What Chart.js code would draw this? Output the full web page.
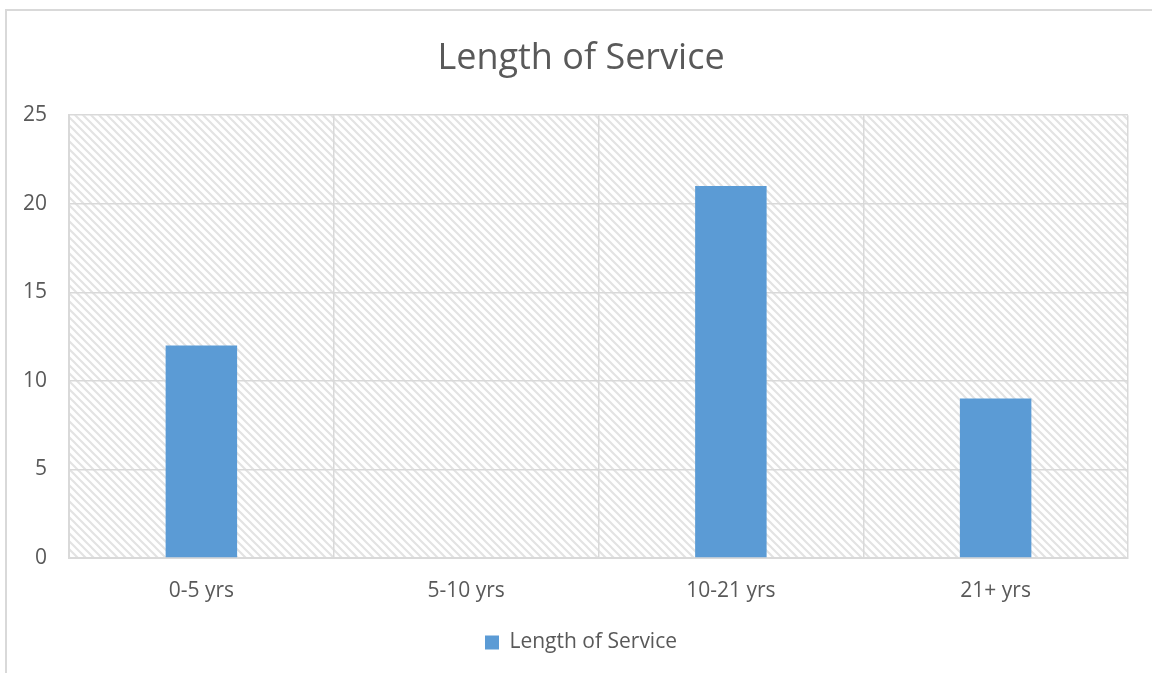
<!DOCTYPE html>
<html>
<head>
<meta charset="utf-8">
<script src="https://cdn.jsdelivr.net/npm/chart.js@4"></script>
<style>
  html, body { margin: 0; padding: 0; background: #fff; }
  #frame { position: absolute; left: 5px; top: 9px; width: 1160px; height: 680px; border: 2px solid #d9d9d9; box-sizing: border-box; }
  #wrap { position: absolute; left: 0; top: 0; width: 1152px; height: 673px; }
</style>
</head>
<body>
<div id="frame"></div>
<div id="wrap"><canvas id="chart"></canvas></div>
<script>
const categories = ['0-5 yrs', '5-10 yrs', '10-21 yrs', '21+ yrs'];
const serviceCounts = [12, 0, 21, 9];
const yTicks = [0, 5, 10, 15, 20, 25];

// diagonal hatch used for the plot area background
function makeHatch() {
    const c = document.createElement('canvas');
    c.width = 8; c.height = 8;
    const g = c.getContext('2d');
    g.strokeStyle = '#e3e3e3';
    g.lineWidth = 2.2;
    g.beginPath();
    g.moveTo(-2, -2); g.lineTo(10, 10);
    g.moveTo(-2, 6); g.lineTo(2, 10);
    g.moveTo(6, -2); g.lineTo(10, 2);
    g.stroke();
    return g.createPattern(c, 'repeat');
}

const hatchPlugin = {
    id: 'hatch',
    beforeDraw(chart) {
        const { ctx, chartArea: a } = chart;
        ctx.save();
        ctx.fillStyle = makeHatch();
        ctx.fillRect(a.left, a.top, a.right - a.left, a.bottom - a.top);
        ctx.restore();
    }
};

const font = "'Open Sans', 'Liberation Sans', sans-serif";

new Chart(document.getElementById('chart'), {
    type: 'bar',
    data: {
        labels: categories,
        datasets: [{
            label: 'Length of Service',
            data: serviceCounts,
            backgroundColor: '#5b9bd5',
            barPercentage: 0.54,
            categoryPercentage: 0.5
        }]
    },
    options: {
        responsive: true,
        maintainAspectRatio: false,
        animation: false,
        layout: { padding: { left: 10, right: 0, top: 37, bottom: 10 } },
        plugins: {
            title: {
                display: true,
                text: 'Length of Service',
                color: '#595959',
                font: { family: font, size: 36, weight: 'normal' },
                padding: { top: 0, bottom: 35 }
            },
            legend: {
                position: 'bottom',
                labels: {
                    color: '#595959',
                    font: { family: font, size: 21 },
                    boxWidth: 14,
                    boxHeight: 14,
                    padding: 10
                }
            },
            tooltip: { enabled: false }
        },
        scales: {
            x: {
                grid: { color: '#d9d9d9', lineWidth: 1.5, drawTicks: false },
                border: { color: '#d9d9d9', width: 2 },
                ticks: { color: '#595959', font: { family: font, size: 21 }, padding: 20 },
                afterFit(s) { s.height = 64; }
            },
            y: {
                min: 0,
                max: 25,
                afterBuildTicks(s) { s.ticks = yTicks.map(v => ({ value: v })); },
                grid: { color: '#d9d9d9', lineWidth: 1.5, drawTicks: false },
                border: { color: '#d9d9d9', width: 2 },
                ticks: { color: '#595959', font: { family: font, size: 21 }, padding: 22 },
                afterFit(s) { s.width = 59; }
            },
            // empty right axis keeps a margin right of the plot area
            yRight: {
                position: 'right',
                grid: { display: false },
                border: { display: false },
                ticks: { display: false },
                afterFit(s) { s.width = 24; }
            }
        }
    },
    plugins: [hatchPlugin]
});
</script>
</body>
</html>
